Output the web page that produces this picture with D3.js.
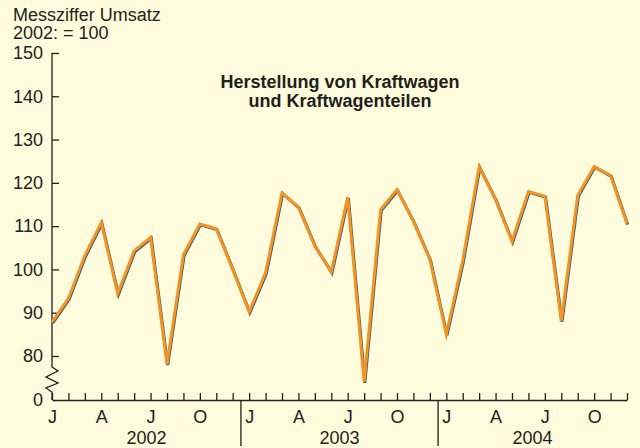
<!DOCTYPE html>
<html>
<head>
<meta charset="utf-8">
<script src="https://cdn.jsdelivr.net/npm/d3@7"></script>
<style>
    body { margin: 0; background: #fefcdc; }
    svg { display: block; }
    text { font-family: "Liberation Sans", Arial, sans-serif; fill: #231f20; }
</style>
</head>
<body>
<div id="chart"></div>
<script>
// monthly index, 2002 = 100
var years = ["2002", "2003", "2004"];
var monthLabels = ["J", "", "", "A", "", "", "J", "", "", "O", "", ""];
var umsatz2002 = [87.8, 93.3, 103.2, 110.8, 94.4, 104.3, 107.4, 78.1, 103.4, 110.5, 109.4, 100.0];
var umsatz2003 = [90.2, 99.2, 117.7, 114.4, 105.4, 99.4, 116.7, 74.0, 113.8, 118.4, 111.1, 102.3];
var umsatz2004 = [85.0, 102.0, 123.7, 116.1, 106.5, 118.0, 116.9, 88.1, 117.1, 123.8, 121.7, 110.6];
var yTicks = [80, 90, 100, 110, 120, 130, 140, 150];

var values = umsatz2002.concat(umsatz2003, umsatz2004);
var width = 640, height = 448;
var axisY = 400;   // where "0" sits, below the break

var svg = d3.select("#chart")
            .append("svg")
                .attr("width", width)
                .attr("height", height);

var x = d3.scaleLinear()
            .domain([0, values.length - 1])
            .range([52, 627]);

var y = d3.scaleLinear()
            .domain([80, 150])
            .range([356, 53]);

// header text
svg.append("text")
    .attr("x", 13).attr("y", 21)
    .style("font-size", "18px")
    .text("Messziffer Umsatz");
svg.append("text")
    .attr("x", 13).attr("y", 39)
    .style("font-size", "18px")
    .text("2002: = 100");

// title
var title = svg.append("text")
                .attr("text-anchor", "middle")
                .style("font-size", "18px")
                .style("font-weight", "bold");
title.append("tspan").attr("x", 340).attr("y", 88).text("Herstellung von Kraftwagen");
title.append("tspan").attr("x", 340).attr("y", 107).text("und Kraftwagenteilen");

// y axis, ticks point inwards
var yAxis = svg.append("g")
    .attr("transform", "translate(" + x(0) + ",0)")
    .call(d3.axisLeft(y).tickValues(yTicks).tickSize(-7).tickPadding(9));
yAxis.select(".domain").remove();
yAxis.selectAll("line").attr("stroke", "#231f20").attr("stroke-width", 1.3);
yAxis.selectAll("text").style("font-size", "18px").attr("fill", "#231f20");

svg.append("text")
    .attr("x", x(0) - 9).attr("y", axisY)
    .attr("dy", "0.32em")
    .attr("text-anchor", "end")
    .style("font-size", "18px")
    .text("0");

// vertical axis line with the break zigzag
var x0 = x(0);
var breakPts = [[x0, y(150)], [x0, 367], [x0 + 6, 371], [x0 - 6, 377], [x0 + 6, 383],
                [x0 - 6, 388], [x0, 392], [x0, axisY]];
svg.append("path")
    .attr("d", d3.line()(breakPts))
    .attr("fill", "none")
    .attr("stroke", "#231f20")
    .attr("stroke-width", 1.3);

// x axis, one tick per month
var xAxis = svg.append("g")
    .attr("transform", "translate(0," + axisY + ")")
    .call(d3.axisBottom(x)
            .tickValues(d3.range(values.length))
            .tickSize(-7)
            .tickSizeOuter(0)
            .tickPadding(10)
            .tickFormat(function(d) { return monthLabels[d % 12]; }));
xAxis.select(".domain").attr("stroke", "#231f20").attr("stroke-width", 1.3);
xAxis.selectAll("line").attr("stroke", "#231f20").attr("stroke-width", 1.3);
xAxis.selectAll("text").style("font-size", "18px").attr("fill", "#231f20");

// year separators and year labels
[11.5, 23.5].forEach(function(m) {
    svg.append("line")
        .attr("x1", x(m)).attr("x2", x(m))
        .attr("y1", axisY).attr("y2", 446)
        .attr("stroke", "#231f20")
        .attr("stroke-width", 1.3);
});
years.forEach(function(yr, i) {
    var left = i === 0 ? x(0) : x(i * 12 - 0.5);
    var right = i === years.length - 1 ? x(values.length - 1) : x(i * 12 + 11.5);
    svg.append("text")
        .attr("x", (left + right) / 2)
        .attr("y", 444)
        .attr("text-anchor", "middle")
        .style("font-size", "18px")
        .text(yr);
});

// data line with a thin dark shadow underneath
var line = d3.line()
            .x(function(d, i) { return x(i); })
            .y(function(d) { return y(d); });

svg.append("path")
    .datum(values)
    .attr("d", line)
    .attr("transform", "translate(0.7,0.9)")
    .attr("fill", "none")
    .attr("stroke", "#3b5b73")
    .attr("stroke-width", 3);

svg.append("path")
    .datum(values)
    .attr("d", line)
    .attr("fill", "none")
    .attr("stroke", "#f39322")
    .attr("stroke-width", 3)
    .attr("stroke-linejoin", "miter")
    .attr("stroke-miterlimit", 6);
</script>
</body>
</html>
